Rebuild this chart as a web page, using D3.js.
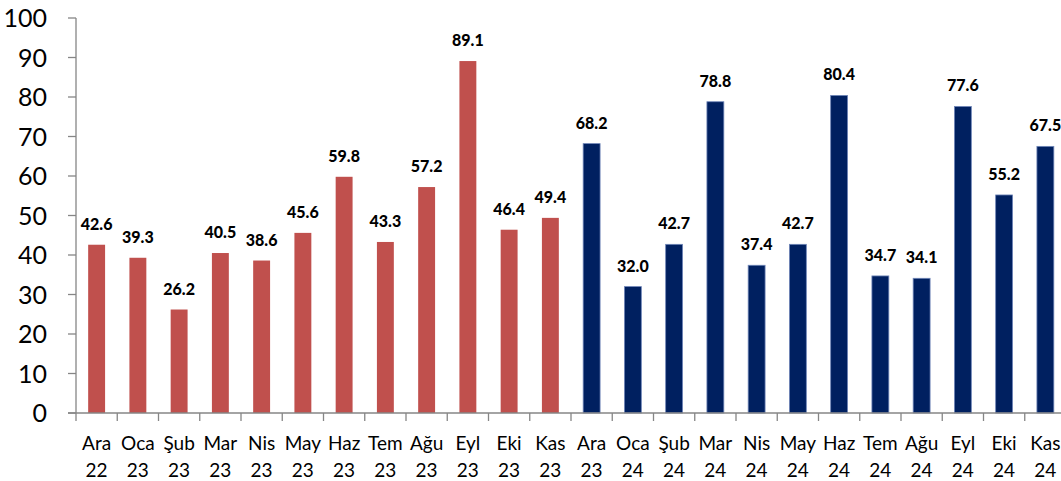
<!DOCTYPE html>
<html>
<head>
<meta charset="utf-8">
<script src="https://cdn.jsdelivr.net/npm/d3@7"></script>
<style>
  body { margin: 0; background: #fff; }
  svg { display: block; }
</style>
</head>
<body>
<div id="chart"></div>
<script>
// months and years for the two-line x labels
const months = ["Ara","Oca","Şub","Mar","Nis","May","Haz","Tem","Ağu","Eyl","Eki","Kas",
                "Ara","Oca","Şub","Mar","Nis","May","Haz","Tem","Ağu","Eyl","Eki","Kas"];
const years = ["22","23","23","23","23","23","23","23","23","23","23","23",
               "23","24","24","24","24","24","24","24","24","24","24","24"];
const values = [42.6, 39.3, 26.2, 40.5, 38.6, 45.6, 59.8, 43.3, 57.2, 89.1, 46.4, 49.4,
                68.2, 32.0, 42.7, 78.8, 37.4, 42.7, 80.4, 34.7, 34.1, 77.6, 55.2, 67.5];
const yTicks = [0, 10, 20, 30, 40, 50, 60, 70, 80, 90, 100];

const width = 1061, height = 481;
const plot = { left: 76, right: 1066, top: 18, bottom: 413 };
const font = "Lato, 'Open Sans', sans-serif";
const axisColor = "#868686";

const svg = d3.select("#chart").append("svg")
  .attr("width", width)
  .attr("height", height);

const data = values.map((v, i) => ({ i, v, m: months[i], yr: years[i] }));

const x = d3.scaleBand()
  .domain(d3.range(values.length))
  .range([plot.left, plot.right])
  .paddingInner(0.59)
  .paddingOuter(0.295);

const y = d3.scaleLinear().domain([0, 100]).range([plot.bottom, plot.top]);

// bars
svg.selectAll("rect.bar")
  .data(data)
  .enter().append("rect")
  .attr("class", "bar")
  .attr("x", d => x(d.i))
  .attr("width", x.bandwidth())
  .attr("y", d => y(d.v))
  .attr("height", d => y(0) - y(d.v))
  .attr("fill", d => d.i < 12 ? "#C0504D" : "#002060")
  .attr("stroke", d => d.i < 12 ? "none" : "#6f86b8")
  .attr("stroke-width", 0.8);

// value labels
svg.selectAll("text.val")
  .data(data)
  .enter().append("text")
  .attr("class", "val")
  .attr("x", d => x(d.i) + x.bandwidth() / 2)
  .attr("y", d => y(d.v) - 15)
  .attr("text-anchor", "middle")
  .attr("font-family", font)
  .attr("font-weight", "900")
  .attr("font-size", "16px")
  .attr("fill", "#000")
  .text(d => d.v.toFixed(1));

// y axis
const yAxis = svg.append("g");
yAxis.append("line")
  .attr("x1", plot.left).attr("x2", plot.left)
  .attr("y1", y(100)).attr("y2", y(0))
  .attr("stroke", axisColor).attr("stroke-width", 1.3);
yTicks.forEach(t => {
  yAxis.append("line")
    .attr("x1", plot.left - 8).attr("x2", plot.left)
    .attr("y1", y(t)).attr("y2", y(t))
    .attr("stroke", axisColor).attr("stroke-width", 1.3);
  yAxis.append("text")
    .attr("x", 47)
    .attr("y", y(t))
    .attr("dy", "0.36em")
    .attr("text-anchor", "end")
    .attr("font-family", font)
    .attr("font-size", "25px")
    .attr("fill", "#000")
    .text(t);
});

// x axis
const xAxis = svg.append("g");
xAxis.append("line")
  .attr("x1", plot.left - 8).attr("x2", plot.right)
  .attr("y1", y(0)).attr("y2", y(0))
  .attr("stroke", axisColor).attr("stroke-width", 1.3);
const step = x.step();
d3.range(values.length + 1).forEach(k => {
  const tx = plot.left + k * step;
  xAxis.append("line")
    .attr("x1", tx).attr("x2", tx)
    .attr("y1", y(0)).attr("y2", y(0) + 8)
    .attr("stroke", axisColor).attr("stroke-width", 1.3);
});
data.forEach(d => {
  const cx = x(d.i) + x.bandwidth() / 2;
  const t = xAxis.append("text")
    .attr("text-anchor", "middle")
    .attr("font-family", font)
    .attr("font-size", "19px")
    .attr("fill", "#000");
  t.append("tspan").attr("x", cx).attr("y", 450).text(d.m);
  t.append("tspan").attr("x", cx).attr("y", 477).text(d.yr);
});
</script>
</body>
</html>
